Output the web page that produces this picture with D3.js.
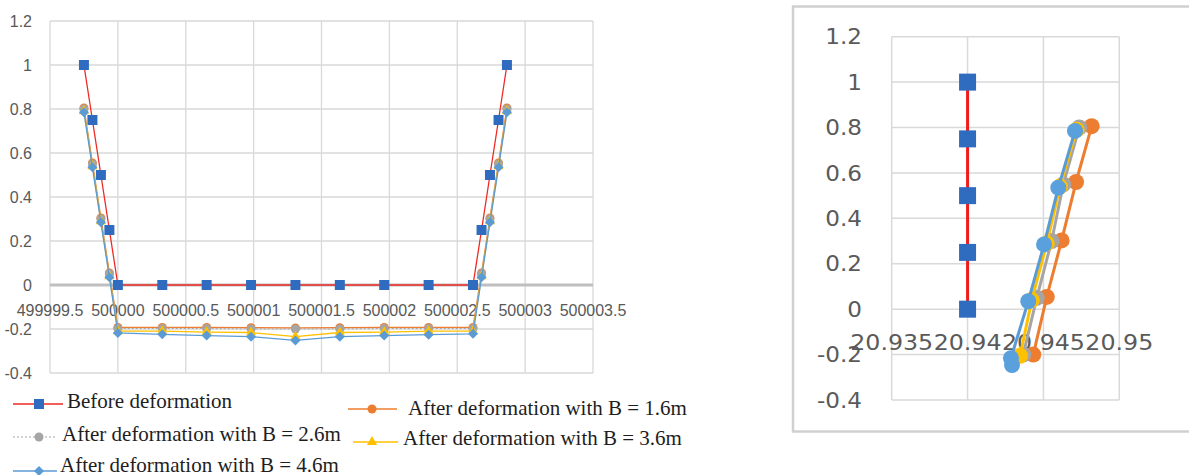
<!DOCTYPE html>
<html><head><meta charset="utf-8">
<script src="https://cdn.jsdelivr.net/npm/d3@7"></script>
<style>html,body{margin:0;padding:0;background:#fff;}svg{display:block;}</style>
</head><body>
<svg id="c" width="1189" height="475"></svg>
<script>
// ---------- Left chart data ----------
const leftX = [499999.75, 499999.8125, 499999.875, 499999.9375, 500000, 500000.327, 500000.654, 500000.981, 500001.308, 500001.635, 500001.962, 500002.289, 500002.616, 500002.679, 500002.741, 500002.804, 500002.866];
const beforeY = [1, 0.75, 0.5, 0.25, 0, 0, 0, 0, 0, 0, 0, 0, 0, 0.25, 0.5, 0.75, 1];
const b16Y = [0.805, 0.555, 0.305, 0.055, -0.193, -0.193, -0.193, -0.194, -0.195, -0.194, -0.193, -0.193, -0.193, 0.055, 0.305, 0.555, 0.805];
const b26Y = [0.8, 0.55, 0.3, 0.05, -0.198, -0.198, -0.198, -0.2, -0.2, -0.2, -0.198, -0.198, -0.198, 0.05, 0.3, 0.55, 0.8];
const b36Y = [0.79, 0.54, 0.29, 0.04, -0.21, -0.21, -0.214, -0.216, -0.235, -0.216, -0.214, -0.21, -0.21, 0.04, 0.29, 0.54, 0.79];
const b46Y = [0.785, 0.535, 0.285, 0.035, -0.218, -0.224, -0.23, -0.235, -0.252, -0.235, -0.23, -0.226, -0.222, 0.035, 0.285, 0.535, 0.785];
const leftXTicks = [499999.5, 500000, 500000.5, 500001, 500001.5, 500002, 500002.5, 500003, 500003.5];
const leftXTickLabels = ["499999.5", "500000", "500000.5", "500001", "500001.5", "500002", "500002.5", "500003", "500003.5"];
const yTicks = [-0.4, -0.2, 0, 0.2, 0.4, 0.6, 0.8, 1, 1.2];
const yTickLabels = ["-0.4", "-0.2", "0", "0.2", "0.4", "0.6", "0.8", "1", "1.2"];

// ---------- Right chart data ----------
const rBeforeX = [20.94, 20.94, 20.94, 20.94, 20.94];
const rBeforeY = [0, 0.25, 0.5, 0.75, 1];
const r16X = [20.94433, 20.94522, 20.9462, 20.94715, 20.94818];
const r16Y = [-0.2, 0.054, 0.303, 0.56, 0.806];
const r26X = [20.94367, 20.94456, 20.94554, 20.94631, 20.94736];
const r26Y = [-0.2, 0.05, 0.3, 0.55, 0.8];
const r36X = [20.94346, 20.94423, 20.94522, 20.94609, 20.94719];
const r36Y = [-0.205, 0.04, 0.29, 0.54, 0.79];
const r46X = [20.94293, 20.94286, 20.944, 20.94504, 20.94598, 20.94708];
const r46Y = [-0.246, -0.216, 0.035, 0.285, 0.535, 0.785];
const rightXTicks = [20.935, 20.94, 20.945, 20.95];
const rightXTickLabels = ["20.935", "20.94", "20.945", "20.95"];

const legendLabels = ["Before deformation", "After deformation with B = 1.6m", "After deformation with B = 2.6m", "After deformation with B = 3.6m", "After deformation with B = 4.6m"];

const C = {red:"#ee2a24", sq:"#2f6bbf", orange:"#ed7d31", gray:"#a5a5a5", yellow:"#ffc000", blue:"#5b9bd5", grid:"#d9d9d9", text:"#595959"};

const svg = d3.select("#c");

// ================= LEFT CHART =================
const xL = d3.scaleLinear().domain([499999.5, 500003.5]).range([50, 593]);
const yL = d3.scaleLinear().domain([-0.4, 1.2]).range([373, 21]);
const gL = svg.append("g");

gL.selectAll("line.vg").data(leftXTicks).join("line")
  .attr("x1", d => xL(d)).attr("x2", d => xL(d)).attr("y1", yL(1.2)).attr("y2", yL(-0.4))
  .attr("stroke", C.grid).attr("stroke-width", 1.3);
gL.selectAll("line.hg").data(yTicks).join("line")
  .attr("x1", xL(499999.5)).attr("x2", xL(500003.5)).attr("y1", d => yL(d)).attr("y2", d => yL(d))
  .attr("stroke", C.grid).attr("stroke-width", 1.3);
// zero axis line
gL.append("line").attr("x1", xL(499999.5)).attr("x2", xL(500003.5)).attr("y1", yL(0)).attr("y2", yL(0))
  .attr("stroke", "#bfbfbf").attr("stroke-width", 3);

gL.selectAll("text.yl").data(yTicks).join("text")
  .attr("x", 32).attr("y", d => yL(d)).attr("dy", "0.36em").attr("text-anchor", "end")
  .attr("font-family", "Liberation Sans, Arial, sans-serif").attr("font-size", 16).attr("fill", C.text)
  .text((d, i) => yTickLabels[i]);
gL.selectAll("text.xl").data(leftXTicks).join("text")
  .attr("x", d => xL(d)).attr("y", 316).attr("text-anchor", "middle")
  .attr("font-family", "Liberation Sans, Arial, sans-serif").attr("font-size", 16).attr("fill", C.text)
  .text((d, i) => leftXTickLabels[i]);

function markerPath(type, size) {
  if (type === "square") return d3.symbol(d3.symbolSquare, size * size)();
  if (type === "circle") return d3.symbol(d3.symbolCircle, Math.PI * size * size / 4)();
  if (type === "triangle") return d3.symbol(d3.symbolTriangle, size * size * 0.45)();
  if (type === "diamond") return d3.symbol(d3.symbolSquare, size * size / 2)();
}

function drawSeries(g, xs, ys, xS, yS, opt) {
  const pts = xs.map((x, i) => [xS(x), yS(ys[i])]);
  g.append("path").attr("d", d3.line()(pts)).attr("fill", "none")
    .attr("stroke", opt.line).attr("stroke-width", opt.lw)
    .attr("stroke-dasharray", opt.dash || null).attr("stroke-linejoin", "round");
  g.selectAll(null).data(pts).join("path")
    .attr("d", markerPath(opt.marker, opt.ms))
    .attr("transform", d => `translate(${d[0]},${d[1]})` + (opt.marker === "diamond" ? " rotate(45)" : ""))
    .attr("fill", opt.fill).attr("stroke", opt.stroke || "none").attr("stroke-width", opt.sw || 0);
}

const sL = [
  {ys: beforeY, line: C.red, lw: 1.3, marker: "square", ms: 10, fill: C.sq},
  {ys: b16Y, line: C.orange, lw: 1.3, marker: "circle", ms: 9, fill: C.orange},
  {ys: b26Y, line: C.gray, lw: 1, dash: "2,2", marker: "circle", ms: 9, fill: C.gray},
  {ys: b36Y, line: C.yellow, lw: 1.3, marker: "triangle", ms: 10, fill: C.yellow},
  {ys: b46Y, line: C.blue, lw: 1.3, marker: "diamond", ms: 10, fill: C.blue}
];
sL.forEach(s => drawSeries(gL.append("g"), leftX, s.ys, xL, yL, s));

// ---------- Legend ----------
const legItems = [
  {i: 0, x1: 13, x2: 63, mx: 39, y: 404, tx: 67, ty: 408, s: sL[0]},
  {i: 2, x1: 13, x2: 57, mx: 39, y: 437, tx: 62, ty: 441, s: sL[2]},
  {i: 4, x1: 13, x2: 57, mx: 39, y: 471, tx: 60, ty: 472, s: sL[4]},
  {i: 1, x1: 348, x2: 397, mx: 372, y: 409, tx: 408, ty: 415, s: sL[1]},
  {i: 3, x1: 353, x2: 398, mx: 372, y: 442, tx: 403, ty: 445, s: sL[3]}
];
const gLeg = svg.append("g");
legItems.forEach(it => {
  gLeg.append("line").attr("x1", it.x1).attr("x2", it.x2).attr("y1", it.y).attr("y2", it.y)
    .attr("stroke", it.s.line).attr("stroke-width", it.s.lw).attr("stroke-dasharray", it.s.dash || null);
  gLeg.append("path").attr("d", markerPath(it.s.marker, it.s.ms))
    .attr("transform", `translate(${it.mx},${it.y})` + (it.s.marker === "diamond" ? " rotate(45)" : ""))
    .attr("fill", it.s.fill);
  gLeg.append("text").attr("x", it.tx).attr("y", it.ty)
    .attr("font-family", "Liberation Serif, Times New Roman, serif").attr("font-size", 21).attr("fill", "#1e1e1e")
    .text(legendLabels[it.i]);
});

// ================= RIGHT CHART =================
const gR = svg.append("g");
gR.append("rect").attr("x", 793).attr("y", 6.5).attr("width", 420).attr("height", 425)
  .attr("fill", "#fff").attr("stroke", "#d0d0d0").attr("stroke-width", 2.5);
const xR = d3.scaleLinear().domain([20.935, 20.95]).range([891.7, 1119.3]);
const yR = d3.scaleLinear().domain([-0.4, 1.2]).range([400, 36.7]);

gR.selectAll("line.vg").data(rightXTicks).join("line")
  .attr("x1", d => xR(d)).attr("x2", d => xR(d)).attr("y1", yR(1.2)).attr("y2", yR(-0.4))
  .attr("stroke", C.grid).attr("stroke-width", 1.5);
gR.selectAll("line.hg").data(yTicks).join("line")
  .attr("x1", xR(20.935)).attr("x2", xR(20.95)).attr("y1", d => yR(d)).attr("y2", d => yR(d))
  .attr("stroke", C.grid).attr("stroke-width", 1.5);

const rFont = "DejaVu Sans, Verdana, sans-serif";
gR.selectAll("text.yl").data(yTicks).join("text")
  .attr("transform", d => `translate(862,${yR(d)}) scale(1.1,1)`).attr("dy", "0.36em").attr("text-anchor", "end")
  .attr("font-family", rFont).attr("font-size", 21).attr("fill", "#5a5a5a")
  .text((d, i) => yTickLabels[i]);
gR.selectAll("text.xl").data(rightXTicks).join("text")
  .attr("transform", d => `translate(${xR(d)},350) scale(1.13,1)`).attr("text-anchor", "middle")
  .attr("font-family", rFont).attr("font-size", 21).attr("fill", "#5a5a5a")
  .text((d, i) => rightXTickLabels[i]);

const sR = [
  {xs: rBeforeX, ys: rBeforeY, line: "#f01c1c", lw: 3, marker: "square", ms: 17, fill: C.sq},
  {xs: r16X, ys: r16Y, line: C.orange, lw: 3, marker: "circle", ms: 16, fill: C.orange},
  {xs: r26X, ys: r26Y, line: C.gray, lw: 3, marker: "circle", ms: 16, fill: C.gray},
  {xs: r36X, ys: r36Y, line: C.yellow, lw: 3, marker: "circle", ms: 16, fill: C.yellow},
  {xs: r46X, ys: r46Y, line: C.blue, lw: 3, marker: "circle", ms: 16, fill: "#5aa0dc"}
];
sR.forEach(s => drawSeries(gR.append("g"), s.xs, s.ys, xR, yR, s));
</script>
</body></html>
